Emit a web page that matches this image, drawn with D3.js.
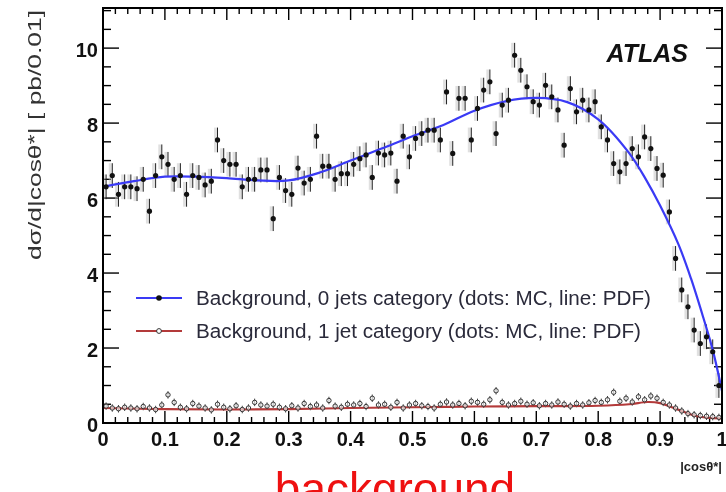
<!doctype html>
<html lang="en">
  <head>
    <meta charset="utf-8">
    <title>ATLAS |cos theta*| background</title>
    <script src="https://d3js.org/d3.v7.min.js"></script>
    <style>
      html, body { margin: 0; padding: 0; background: #fff; }
      svg { display: block; filter: blur(0.4px); }
      text { font-family: 'Liberation Sans', Arial, Helvetica, sans-serif; }
    </style>
  </head>
  <body>
    <div id="chart"></div>
  <script>
    // 0 jets category: MC points, one per 0.01 bin of |cos theta*|
    const mc0 = [6.3, 6.6, 6.1, 6.3, 6.3, 6.25, 6.5, 5.65, 6.6, 7.1,
      6.9, 6.5, 6.6, 6.1, 6.6, 6.55, 6.35, 6.45, 7.55, 7.0,
      6.9, 6.9, 6.3, 6.5, 6.5, 6.75, 6.75, 5.45, 6.55, 6.2,
      6.1, 6.8, 6.4, 6.5, 7.65, 6.85, 6.85, 6.5, 6.65, 6.65,
      6.9, 7.05, 7.15, 6.55, 7.2, 7.15, 7.2, 6.45, 7.65, 7.1,
      7.59, 7.72, 7.81, 7.81, 7.55, 8.83, 7.19, 8.66, 8.66, 7.55,
      8.39, 8.88, 9.10, 7.72, 8.48, 8.61, 9.81, 9.41, 8.97, 8.57,
      8.48, 9.01, 8.70, 8.35, 7.41, 8.92, 8.30, 8.61, 8.35, 8.57,
      7.90, 7.55, 6.92, 6.70, 6.92, 7.32, 7.10, 7.63, 7.32, 6.79,
      6.61, 5.63, 4.39, 3.55, 3.10, 2.48, 2.12, 2.3, 1.9, 1.0];

    // 1 jet category: MC points
    const mc1 = [0.45, 0.40, 0.38, 0.42, 0.40, 0.38, 0.44, 0.40, 0.36, 0.48,
      0.75, 0.55, 0.42, 0.38, 0.52, 0.45, 0.40, 0.35, 0.50, 0.42,
      0.38, 0.46, 0.36, 0.40, 0.55, 0.48, 0.45, 0.50, 0.42, 0.38,
      0.46, 0.40, 0.52, 0.44, 0.48, 0.40, 0.60, 0.45, 0.42, 0.50,
      0.48, 0.52, 0.44, 0.66, 0.48, 0.50, 0.42, 0.55, 0.40, 0.48,
      0.52, 0.46, 0.44, 0.40, 0.50, 0.56, 0.48, 0.52, 0.46, 0.58,
      0.55, 0.50, 0.62, 0.86, 0.55, 0.48, 0.52, 0.58, 0.50, 0.54,
      0.46, 0.52, 0.48, 0.56, 0.50, 0.45, 0.52, 0.48, 0.54, 0.60,
      0.55, 0.62, 0.82, 0.58, 0.66, 0.56, 0.70, 0.62, 0.72, 0.66,
      0.55, 0.48, 0.40, 0.32, 0.25, 0.22, 0.20, 0.18, 0.17, 0.15];

    const err0 = 0.33;
    const err1 = 0.1;

    // PDF curves
    const pdf0X = [0, 0.05, 0.1, 0.15, 0.2, 0.25, 0.3, 0.35, 0.4, 0.45, 0.5, 0.55, 0.6, 0.65, 0.7, 0.75, 0.8, 0.85, 0.877, 0.9, 0.93, 0.95, 0.97, 0.985, 1.0];
    const pdf0Y = [6.30, 6.45, 6.57, 6.57, 6.53, 6.47, 6.47, 6.68, 7.0, 7.32, 7.65, 7.95, 8.33, 8.58, 8.67, 8.56, 8.1, 7.2, 6.5, 5.8, 4.75, 3.85, 2.8, 1.95, 0.85];
    const pdf1X = [0, 0.1, 0.2, 0.3, 0.4, 0.5, 0.6, 0.7, 0.8, 0.85, 0.88, 0.9, 0.93, 0.96, 1.0];
    const pdf1Y = [0.40, 0.37, 0.36, 0.37, 0.40, 0.42, 0.44, 0.45, 0.46, 0.50, 0.56, 0.53, 0.35, 0.18, 0.12];

    const xTicks = [0, 0.1, 0.2, 0.3, 0.4, 0.5, 0.6, 0.7, 0.8, 0.9, 1];
    const yTicks = [0, 2, 4, 6, 8, 10];
    const legendLabels = ['Background, 0 jets category (dots: MC, line: PDF)',
                          'Background, 1 jet category (dots: MC, line: PDF)'];

    const w = 726, h = 492;
    const frame = {left: 103, right: 722, top: 8, bottom: 423};
    const blue = '#3a3af5', red = '#b33a3a';

    const svg = d3.select('#chart').append('svg')
      .attr('width', w).attr('height', h);

    const x = d3.scaleLinear().domain([0, 1]).range([frame.left, frame.right]);
    const y = d3.scaleLinear().domain([0, 11.07]).range([frame.bottom, frame.top]);

    const bins = d3.range(100).map(i => (i + 0.5) / 100);

    // ticks (ROOT style: inside the frame, on all four sides)
    const g = svg.append('g');
    const xMinor = d3.range(0, 1.0001, 0.02);
    const yMinor = d3.range(0, 11.01, 0.5);
    xMinor.forEach((v, i) => {
      const len = i % 5 === 0 ? 12 : 6;
      g.append('line').attr('x1', x(v)).attr('x2', x(v))
        .attr('y1', frame.bottom).attr('y2', frame.bottom - len)
        .attr('stroke', '#000').attr('stroke-width', 1.4);
      g.append('line').attr('x1', x(v)).attr('x2', x(v))
        .attr('y1', frame.top).attr('y2', frame.top + len)
        .attr('stroke', '#000').attr('stroke-width', 1.4);
    });
    yMinor.forEach((v, i) => {
      const len = i % 4 === 0 ? 16 : 8;
      g.append('line').attr('x1', frame.left).attr('x2', frame.left + len)
        .attr('y1', y(v)).attr('y2', y(v))
        .attr('stroke', '#000').attr('stroke-width', 1.4);
      g.append('line').attr('x1', frame.right).attr('x2', frame.right - len)
        .attr('y1', y(v)).attr('y2', y(v))
        .attr('stroke', '#000').attr('stroke-width', 1.4);
    });

    // error bars
    const plot = svg.append('g');
    plot.selectAll('.shade0').data(mc0).enter().append('rect')
      .attr('x', (d, i) => x(bins[i]) - 3.5).attr('width', 3)
      .attr('y', d => y(d + err0)).attr('height', d => y(d - err0) - y(d + err0))
      .attr('fill', '#bbb').attr('opacity', 0.45);
    plot.selectAll('.err0').data(mc0).enter().append('line')
      .attr('x1', (d, i) => x(bins[i])).attr('x2', (d, i) => x(bins[i]))
      .attr('y1', d => y(d + err0)).attr('y2', d => y(d - err0))
      .attr('stroke', '#222').attr('stroke-width', 1);
    plot.selectAll('.err1').data(mc1).enter().append('line')
      .attr('x1', (d, i) => x(bins[i])).attr('x2', (d, i) => x(bins[i]))
      .attr('y1', d => y(d + err1)).attr('y2', d => y(Math.max(0, d - err1)))
      .attr('stroke', '#444').attr('stroke-width', 1);

    // PDF lines
    const line = d3.line().x(d => x(d[0])).y(d => y(d[1])).curve(d3.curveCatmullRom.alpha(0.5));
    plot.append('path').datum(d3.zip(pdf1X, pdf1Y)).attr('d', line)
      .attr('fill', 'none').attr('stroke', red).attr('stroke-width', 2.2);
    plot.append('path').datum(d3.zip(pdf0X, pdf0Y)).attr('d', line)
      .attr('fill', 'none').attr('stroke', blue).attr('stroke-width', 2.2);

    // markers
    plot.selectAll('.m1').data(mc1).enter().append('circle')
      .attr('cx', (d, i) => x(bins[i])).attr('cy', d => y(d)).attr('r', 2.2)
      .attr('fill', '#fff').attr('fill-opacity', 0.6).attr('stroke', '#333').attr('stroke-width', 1);
    plot.selectAll('.m0').data(mc0).enter().append('circle')
      .attr('cx', (d, i) => x(bins[i])).attr('cy', d => y(d)).attr('r', 2.6)
      .attr('fill', '#111');

    // frame
    svg.append('rect').attr('x', frame.left).attr('y', frame.top)
      .attr('width', frame.right - frame.left).attr('height', frame.bottom - frame.top)
      .attr('fill', 'none').attr('stroke', '#000').attr('stroke-width', 2);

    // tick labels
    svg.selectAll('.xl').data(xTicks).enter().append('text')
      .attr('x', d => x(d)).attr('y', 446)
      .attr('text-anchor', 'middle').attr('font-size', 20).attr('font-weight', 'bold')
      .attr('fill', '#111').text(d => d === 0 || d === 1 ? d : d.toFixed(1));
    svg.selectAll('.yl').data(yTicks).enter().append('text')
      .attr('x', 98).attr('y', d => y(d) + 9)
      .attr('text-anchor', 'end').attr('font-size', 20).attr('font-weight', 'bold')
      .attr('fill', '#111').text(d => d);

    // axis titles
    svg.append('text')
      .attr('transform', 'translate(41,260) rotate(-90)')
      .attr('font-size', 19).attr('fill', '#333')
      .attr('textLength', 250).attr('lengthAdjust', 'spacingAndGlyphs')
      .text('dσ/d|cosθ*|  [ pb/0.01]');
    svg.append('text')
      .attr('x', 722).attr('y', 471).attr('text-anchor', 'end')
      .attr('font-size', 13).attr('font-weight', 'bold').attr('fill', '#222')
      .text('|cosθ*|');

    // ATLAS label
    svg.append('text')
      .attr('x', 688).attr('y', 62).attr('text-anchor', 'end')
      .attr('font-size', 25).attr('font-weight', 'bold').attr('font-style', 'italic')
      .attr('fill', '#111').text('ATLAS');

    // legend
    const legend = svg.append('g');
    const rowY = [298, 331];
    legendLabels.forEach((lab, i) => {
      legend.append('line').attr('x1', 136).attr('x2', 182)
        .attr('y1', rowY[i]).attr('y2', rowY[i])
        .attr('stroke', i === 0 ? blue : red).attr('stroke-width', 2.2);
      legend.append('circle').attr('cx', 159).attr('cy', rowY[i]).attr('r', i === 0 ? 2.8 : 2.4)
        .attr('fill', i === 0 ? '#111' : '#fff').attr('stroke', i === 0 ? 'none' : '#333');
      legend.append('text').attr('x', 196).attr('y', rowY[i] + 7)
        .attr('font-size', 20).attr('fill', '#2a2a3a')
        .attr('textLength', i === 0 ? 455 : 445).attr('lengthAdjust', 'spacingAndGlyphs')
        .text(lab);
    });

    // caption below
    svg.append('text')
      .attr('x', 395).attr('y', 505).attr('text-anchor', 'middle')
      .attr('font-size', 46).attr('fill', '#ee1111')
      .text('background');
  </script>
  </body>
</html>
